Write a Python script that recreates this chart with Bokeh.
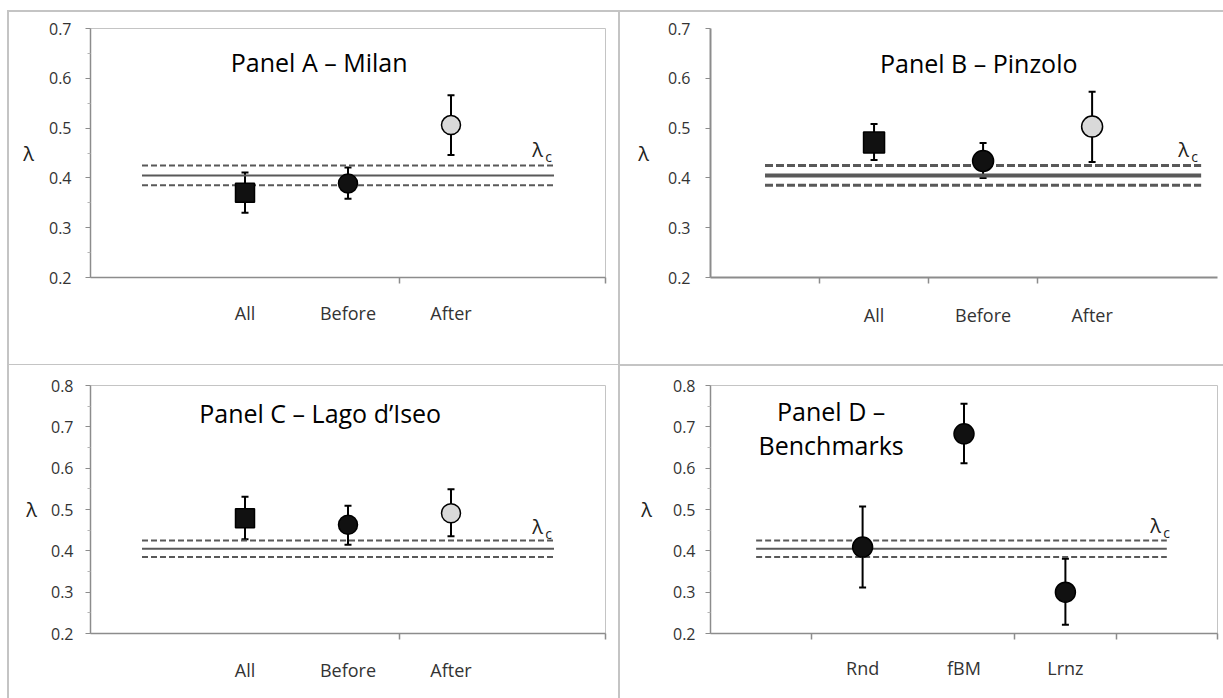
from bokeh.plotting import figure
from bokeh.layouts import gridplot
from bokeh.models import ColumnDataSource, Whisker, TeeHead, FixedTicker, Label
from bokeh.embed import file_html
from bokeh.resources import INLINE

# ---------------- data ----------------
PERIODS = ["All", "Before", "After"]
BENCHMARKS = ["Rnd", "fBM", "Lrnz"]

MILAN = [0.370, 0.389, 0.506]
MILAN_LO = [0.330, 0.358, 0.446]
MILAN_HI = [0.411, 0.421, 0.566]

PINZOLO = [0.471, 0.434, 0.503]
PINZOLO_LO = [0.436, 0.400, 0.432]
PINZOLO_HI = [0.508, 0.470, 0.573]

ISEO = [0.479, 0.463, 0.491]
ISEO_LO = [0.428, 0.415, 0.435]
ISEO_HI = [0.531, 0.509, 0.549]

BENCH = [0.409, 0.683, 0.300]
BENCH_LO = [0.311, 0.612, 0.221]
BENCH_HI = [0.507, 0.756, 0.381]

LAMBDA_C = 0.405
LAMBDA_C_LO = 0.385
LAMBDA_C_HI = 0.425

Y_TICKS_TOP = [0.2, 0.3, 0.4, 0.5, 0.6, 0.7]
Y_TICKS_BOTTOM = [0.2, 0.3, 0.4, 0.5, 0.6, 0.7, 0.8]
Y_MINOR_TOP = [0.25, 0.35, 0.45, 0.55, 0.65]
Y_MINOR_BOTTOM = [0.25, 0.35, 0.45, 0.55, 0.65, 0.75]

# ---------------- styles ----------------
FONT = "Open Sans"
PERIOD_MARKERS = ["square", "circle", "circle"]
PERIOD_FILLS = ["#111111", "#111111", "#d9d9d9"]
BENCH_MARKERS = ["circle", "circle", "circle"]
BENCH_FILLS = ["#111111", "#111111", "#111111"]
LINE_COLOR = "#595959"
AXIS_COLOR = "#8c8c8c"
G = "#c4c4c4"


def panel(cfg):
    p = figure(width=cfg["w"], height=cfg["h"], output_backend="svg",
               toolbar_location=None, tools="",
               x_range=(0, cfg["xmax"]), y_range=(cfg["ymin"], cfg["ymax"]),
               min_border_left=cfg["mb"][0], min_border_right=cfg["mb"][1],
               min_border_top=cfg["mb"][2], min_border_bottom=cfg["mb"][3],
               border_fill_color=None, background_fill_color="white",
               styles={"box-shadow": cfg["shadow"]})
    p.grid.visible = False
    if cfg["outline"]:
        p.outline_line_color = "#c4c4c4"
        p.outline_line_width = 1
    else:
        p.outline_line_color = None

    cats = cfg["cats"]
    xs = [i + 1.5 for i in range(len(cats))]

    # x axis
    xa = p.xaxis[0]
    xa.ticker = FixedTicker(ticks=xs, minor_ticks=cfg["xminor"])
    xa.major_label_overrides = {x: c for x, c in zip(xs, cats)}
    xa.major_tick_in = 0
    xa.major_tick_out = 0
    xa.minor_tick_in = 0
    xa.minor_tick_out = 6
    xa.minor_tick_line_color = AXIS_COLOR
    xa.minor_tick_line_width = 1.5
    xa.axis_line_color = AXIS_COLOR
    xa.axis_line_width = cfg["axw"]
    xa.major_label_text_font = FONT
    xa.major_label_text_font_size = "18px"
    xa.major_label_text_color = "#333333"
    xa.major_label_standoff = cfg["xstand"]

    # y axis
    ya = p.yaxis[0]
    ya.ticker = FixedTicker(ticks=cfg["yticks"], minor_ticks=cfg["yminor"])
    ya.major_label_overrides = {t: "%.1f" % t for t in cfg["yticks"]}
    ya.major_tick_in = 0
    ya.major_tick_out = 5
    ya.minor_tick_in = 0
    ya.minor_tick_out = 3
    ya.major_tick_line_color = AXIS_COLOR
    ya.minor_tick_line_color = "#b5b5b5"
    ya.axis_line_color = AXIS_COLOR
    ya.axis_line_width = cfg["axw"]
    ya.major_label_text_font = FONT
    ya.major_label_text_font_size = "16px"
    ya.major_label_text_color = "#333333"
    ya.major_label_standoff = cfg["ystand"]
    ya.axis_label = "λ"
    ya.axis_label_orientation = "horizontal"
    ya.axis_label_text_font = FONT
    ya.axis_label_text_font_style = "normal"
    ya.axis_label_text_font_size = "20px"
    ya.axis_label_text_color = "#222222"
    ya.axis_label_standoff = cfg["lstand"]

    # lambda_c reference lines
    x0, x1 = cfg["lx"]
    p.segment(x0=[x0], x1=[x1], y0=[LAMBDA_C], y1=[LAMBDA_C],
              line_color=LINE_COLOR, line_width=cfg["lw"][0])
    p.segment(x0=[x0, x0], x1=[x1, x1], y0=[LAMBDA_C_LO, LAMBDA_C_HI],
              y1=[LAMBDA_C_LO, LAMBDA_C_HI], line_color=LINE_COLOR,
              line_width=cfg["lw"][1], line_dash=cfg["dash"])

    # data
    src = ColumnDataSource(dict(x=xs, y=cfg["vals"], lo=cfg["lo"], hi=cfg["hi"],
                                marker=cfg["markers"], fill=cfg["fills"]))
    w = Whisker(base="x", lower="lo", upper="hi", source=src,
                line_color="black", line_width=2,
                upper_head=TeeHead(size=7, line_color="black", line_width=2),
                lower_head=TeeHead(size=7, line_color="black", line_width=2))
    p.add_layout(w)
    p.scatter("x", "y", source=src, marker="marker", size=cfg["msize"],
              fill_color="fill", line_color="black", line_width=1.5)

    # titles
    for (tx, ty, txt) in cfg["title"]:
        p.add_layout(Label(x=tx, y=ty, text=txt, text_font=FONT,
                           text_font_size="25px", text_color="black",
                           text_align="center", text_baseline="middle"))
    # lambda_c label
    cx, cy = cfg["lc"]
    p.add_layout(Label(x=cx, y=cy, text="λ", text_font=FONT, text_font_size="20px",
                       text_color="#222222", text_align="center", text_baseline="middle"))
    p.add_layout(Label(x=cx, y=cy, x_offset=11, y_offset=-7, text="c", text_font=FONT,
                       text_font_size="14px", text_color="#222222",
                       text_align="center", text_baseline="middle"))
    return p


pA = panel(dict(w=619, h=365, xmax=5, ymin=0.2, ymax=0.7, mb=(90, 14, 28, 88),
                shadow=(f"inset 7px 0 0 white, inset 0 10px 0 white, "
                        f"inset 9px 0 0 {G}, inset 0 12px 0 {G}, inset -1px -1px 0 {G}"),
                outline=True, cats=PERIODS, xminor=[3, 5], axw=1.5, xstand=17,
                yticks=Y_TICKS_TOP, yminor=Y_MINOR_TOP, ystand=14, lstand=12,
                lx=(0.5, 4.5), lw=(2, 2), dash="6 3",
                vals=MILAN, lo=MILAN_LO, hi=MILAN_HI,
                markers=PERIOD_MARKERS, fills=PERIOD_FILLS, msize=19,
                title=[(2.22, 0.632, "Panel A – Milan")], lc=(4.34, 0.457)))

pB = panel(dict(w=604, h=365, xmax=4.65, ymin=0.2, ymax=0.7, mb=(91, 6, 26, 82),
                shadow=(f"inset 0 10px 0 white, inset 0 12px 0 {G}, "
                        f"inset 1px 0 0 {G}, inset 0 -1px 0 {G}"),
                outline=False, cats=PERIODS, xminor=[1, 2, 3], axw=2, xstand=19,
                yticks=Y_TICKS_TOP, yminor=[], ystand=15, lstand=16,
                lx=(0.5, 4.5), lw=(4, 3), dash="8 3",
                vals=PINZOLO, lo=PINZOLO_LO, hi=PINZOLO_HI,
                markers=PERIOD_MARKERS, fills=PERIOD_FILLS, msize=21,
                title=[(2.46, 0.63, "Panel B – Pinzolo")], lc=(4.34, 0.457)))

pC = panel(dict(w=619, h=333, xmax=5, ymin=0.2, ymax=0.8, mb=(90, 14, 19, 65),
                shadow=f"inset 7px 0 0 white, inset 9px 0 0 {G}, inset -1px 0 0 {G}",
                outline=True, cats=PERIODS, xminor=[3, 5], axw=1.5, xstand=18,
                yticks=Y_TICKS_BOTTOM, yminor=Y_MINOR_BOTTOM, ystand=12, lstand=11,
                lx=(0.5, 4.5), lw=(2, 2), dash="6 3",
                vals=ISEO, lo=ISEO_LO, hi=ISEO_HI,
                markers=PERIOD_MARKERS, fills=PERIOD_FILLS, msize=19,
                title=[(2.23, 0.733, "Panel C – Lago d’Iseo")], lc=(4.34, 0.460)))

pD = panel(dict(w=604, h=333, xmax=5, ymin=0.2, ymax=0.8, mb=(86, 6, 20, 52),
                shadow=f"inset 1px 0 0 {G}, inset 0 1px 0 {G}",
                outline=True, cats=BENCHMARKS, xminor=[1, 3, 4, 5], axw=1.5, xstand=16,
                yticks=Y_TICKS_BOTTOM, yminor=Y_MINOR_BOTTOM, ystand=10, lstand=18,
                lx=(0.45, 4.5), lw=(2, 2), dash="6 3",
                vals=BENCH, lo=BENCH_LO, hi=BENCH_HI,
                markers=BENCH_MARKERS, fills=BENCH_FILLS, msize=20,
                title=[(1.19, 0.738, "Panel D –"), (1.19, 0.657, "Benchmarks")],
                lc=(4.39, 0.462)))

grid = gridplot([[pA, pB], [pC, pD]], toolbar_location=None)

open("out.html", "w").write(file_html(grid, INLINE))
